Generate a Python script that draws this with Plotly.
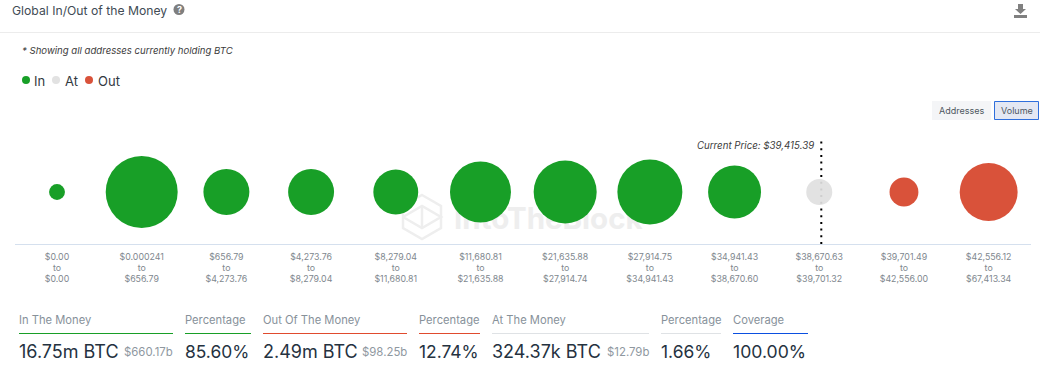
import plotly.graph_objects as go

W, H = 1040, 383

# Data
range_low = ["$0.00", "$0.000241", "$656.79", "$4,273.76", "$8,279.04", "$11,680.81",
             "$21,635.88", "$27,914.75", "$34,941.43", "$38,670.63", "$39,701.49", "$42,556.12"]
range_high = ["$0.00", "$656.79", "$4,273.76", "$8,279.04", "$11,680.81", "$21,635.88",
              "$27,914.74", "$34,941.43", "$38,670.60", "$39,701.32", "$42,556.00", "$67,413.34"]
volume_m_btc = [0.16, 3.29, 1.34, 1.34, 1.28, 2.36, 2.52, 2.68, 1.78, 0.43, 0.53, 2.13]
status = ["In"] * 9 + ["At"] + ["Out"] * 2
current_price_slot = 9.024

COL = {"In": "#189F27", "At": "rgba(224,224,224,0.92)", "Out": "#D9523A"}
FONT = "Inter, 'Noto Sans', sans-serif"
MAX_DIAMETER_PX = 72


def px(x):
    return x / W


def py(y):
    return 1 - y / H


anns = []
shapes = []


def text(x, y, s, size, color, anchor="left", italic=False, weight=None):
    f = dict(family=FONT, size=size, color=color)
    if italic:
        f["style"] = "italic"
    if weight:
        f["weight"] = weight
    anns.append(dict(x=px(x), y=py(y), xref="paper", yref="paper", text=s, showarrow=False,
                     xanchor=anchor, yanchor="middle", font=f, borderpad=0, borderwidth=0))


def hline(x0, x1, y, color, width=1):
    shapes.append(dict(type="line", xref="paper", yref="paper", x0=px(x0), x1=px(x1),
                       y0=py(y), y1=py(y), line=dict(color=color, width=width)))


def circle(cx, cy, r, color):
    shapes.append(dict(type="circle", xref="paper", yref="paper", x0=px(cx - r), x1=px(cx + r),
                       y0=py(cy + r), y1=py(cy - r), fillcolor=color, line=dict(width=0)))


def rect(x0, y0, x1, y1, fill, line=None, layer="above"):
    shapes.append(dict(type="rect", xref="paper", yref="paper", x0=px(x0), x1=px(x1),
                       y0=py(y1), y1=py(y0), fillcolor=fill, layer=layer,
                       line=dict(color=line, width=1) if line else dict(width=0)))


def path(points, color, width=0, fill=None, layer="above", close=True):
    d = "M" + " L".join(f"{px(a):.5f},{py(b):.5f}" for a, b in points) + (" Z" if close else "")
    shapes.append(dict(type="path", xref="paper", yref="paper", path=d, layer=layer,
                       fillcolor=fill if fill else "rgba(0,0,0,0)",
                       line=dict(color=color, width=width)))


# Header
text(12, 10, "Global In/Out of the Money", 12.2, "#414b55")
circle(179, 9.5, 5.5, "#7f7f7f")
text(179, 9.5, "?", 9, "#ffffff", anchor="center", weight=700)
hline(0, 1040, 32.5, "#ececec")
# download icon
path([(1018, 4), (1023, 4), (1023, 9), (1026, 9), (1020.5, 14), (1015, 9), (1018, 9)], "#808080", fill="#808080")
rect(1014, 15, 1027, 18, "#808080")

# Note and legend
text(22, 50.5, "* Showing all addresses currently holding BTC", 9.6, "#3b3b3b", italic=True)
circle(26, 80, 4, COL["In"])
text(33.5, 80.5, "In", 13, "#33393f")
circle(56, 80, 4, "#e2e2e2")
text(64.5, 80.5, "At", 13, "#33393f")
circle(89, 80, 4, COL["Out"])
text(97.5, 80.5, "Out", 13, "#33393f")

# Toggle buttons
rect(932, 101, 991, 120, "#f4f5f7")
text(961.5, 110.5, "Addresses", 9, "#4f5861", anchor="center")
rect(994.5, 101.5, 1038.5, 119.5, "#e4e8f3", line="#2f6fdc")
text(1016.5, 110.5, "Volume", 9, "#4f5861", anchor="center")

# Watermark, behind the bubbles
WM = "#eeeeee"
hexa = [(422, 195), (441, 206), (441, 228), (422, 239), (403, 228), (403, 206)]
path(hexa, WM, width=2.5, layer="below")
path([(403, 217), (422, 206), (441, 217), (422, 228), (403, 217)], WM, width=2.5, layer="below", close=False)
path([(422, 206), (422, 228)], WM, width=2.5, layer="below", close=False)
shapes.append(dict(type="rect", xref="paper", yref="paper", layer="below",
                   x0=px(451), x1=px(670), y0=py(235), y1=py(200),
                   fillcolor="rgba(0,0,0,0)", line=dict(width=0),
                   label=dict(text="IntoTheBlock", textposition="middle left", padding=0,
                              font=dict(family=FONT, size=29.5, color=WM, weight=700))))

# Current price marker
shapes.append(dict(type="line", xref="x", yref="paper", x0=current_price_slot, x1=current_price_slot,
                   y0=py(244), y1=py(140), layer="below",
                   line=dict(color="#000000", width=2, dash="2px,4.7px")))
text(815, 145, "Current Price: $39,415.39", 9.7, "#3b3b3b", anchor="right", italic=True)

# Stats
GREEN, RED, GREY, BLUE = "#189F27", "#E04B2E", "#dfe2e5", "#0b4fe0"
LABEL, VALUE, SUB = "#87919a", "#25323f", "#8f989f"
for x0, x1, label, col in [
    (19, 173, "In The Money", GREEN),
    (185, 251, "Percentage", GREEN),
    (263, 407, "Out Of The Money", RED),
    (419, 480, "Percentage", RED),
    (492, 649, "At The Money", GREY),
    (661, 721, "Percentage", GREY),
    (733, 808, "Coverage", BLUE),
]:
    text(x0, 319.5, label, 11.2, LABEL)
    hline(x0, x1, 333.5, col, 1)
for x0, value, size in [(19, "16.75m BTC", 18), (185, "85.60%", 17.4), (263, "2.49m BTC", 18),
                        (419, "12.74%", 17.4), (492, "324.37k BTC", 18), (661, "1.66%", 17.4),
                        (733, "100.00%", 17.6)]:
    text(x0, 351, value, size, VALUE)
for x1, value in [(173, "$660.17b"), (407, "$98.25b"), (649, "$12.79b")]:
    text(x1, 352, value, 11.4, SUB, anchor="right")

slots = list(range(len(volume_m_btc)))
fig = go.Figure(go.Scatter(
    x=slots, y=[0.5] * len(slots), mode="markers", cliponaxis=False,
    marker=dict(size=volume_m_btc, sizemode="area", opacity=1,
                sizeref=2 * max(volume_m_btc) / MAX_DIAMETER_PX ** 2,
                color=[COL[s] for s in status], line=dict(width=0)),
    customdata=status,
    hovertemplate="%{customdata}: %{marker.size}m BTC<extra></extra>",
))
fig.update_layout(
    width=W, height=H, margin=dict(l=0, r=0, t=0, b=0), autosize=False,
    paper_bgcolor="#ffffff", plot_bgcolor="rgba(0,0,0,0)", showlegend=False,
    annotations=anns, shapes=shapes, font=dict(family=FONT),
    xaxis=dict(domain=[px(14.65), px(1031)], range=[-0.5, 11.5], tickmode="array", tickvals=slots,
               ticktext=[f"{a}<br>to<br>{b}" for a, b in zip(range_low, range_high)],
               tickfont=dict(family=FONT, size=8.8, color="#80878e"), ticks="", showgrid=False,
               ticklabelstandoff=4,
               zeroline=False, showline=True, linecolor="#d5e0ee", linewidth=1, fixedrange=True),
    yaxis=dict(domain=[py(244), py(140)], range=[0, 1], visible=False, fixedrange=True),
)
fig.write_html("out.html", config={"displayModeBar": False},
               post_script="document.body.style.margin='0';document.body.style.overflow='hidden';")
